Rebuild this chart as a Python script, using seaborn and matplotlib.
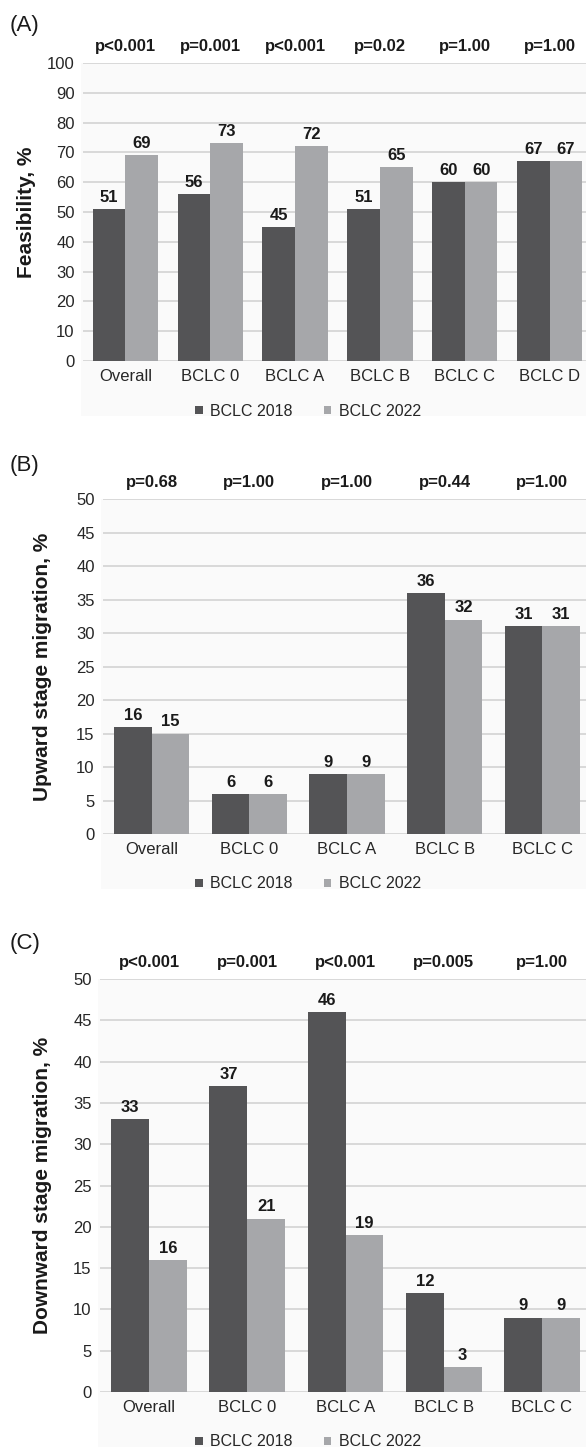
import matplotlib
matplotlib.use("Agg")
import matplotlib.pyplot as plt
import matplotlib.patches as mpatches
import pandas as pd
import seaborn as sns

# ---- data -------------------------------------------------------------
series_names = ["BCLC 2018", "BCLC 2022"]

cats_a = ["Overall", "BCLC 0", "BCLC A", "BCLC B", "BCLC C", "BCLC D"]
feas_2018 = [51, 56, 45, 51, 60, 67]
feas_2022 = [69, 73, 72, 65, 60, 67]
p_a = ["p<0.001", "p=0.001", "p<0.001", "p=0.02", "p=1.00", "p=1.00"]

cats_bc = ["Overall", "BCLC 0", "BCLC A", "BCLC B", "BCLC C"]
up_2018 = [16, 6, 9, 36, 31]
up_2022 = [15, 6, 9, 32, 31]
p_b = ["p=0.68", "p=1.00", "p=1.00", "p=0.44", "p=1.00"]

down_2018 = [33, 37, 46, 12, 9]
down_2022 = [16, 21, 19, 3, 9]
p_c = ["p<0.001", "p=0.001", "p<0.001", "p=0.005", "p=1.00"]

# ---- style ------------------------------------------------------------
sns.set_theme(style="white")
plt.rcParams["font.family"] = ["Liberation Sans", "DejaVu Sans"]

DARK = "#545456"
LIGHT = "#a6a7aa"
GRID = "#d9d9d9"
TXT = "#1a1a1a"

W, H = 586, 1449
fig = plt.figure(figsize=(W / 100, H / 100), dpi=100)


def fx(px):
    return px / W


def fy(py):
    return 1 - py / H


def long_frame(cats, a, b):
    return pd.DataFrame({
        "stage": cats * 2,
        "value": a + b,
        "version": [series_names[0]] * len(cats) + [series_names[1]] * len(cats),
    })


def panel(box, cats, a, b, pvals, ymax, ystep, ylabel, letter, ylab_x, letter_y):
    left, right, top, bottom = box
    # faint chart-area background behind plot, labels and legend
    fig.patches.append(mpatches.Rectangle(
        (fx(left - 2), fy(bottom + 55)), (W - left + 2) / W, (bottom + 55 - top) / H,
        transform=fig.transFigure, facecolor="#fafafa", edgecolor="none", zorder=-10))

    ax = fig.add_axes([fx(left), fy(bottom), (right - left) / W, (bottom - top) / H])
    ax.set_facecolor("none")
    df = long_frame(cats, a, b)
    sns.barplot(data=df, x="stage", y="value", hue="version", order=cats,
                hue_order=series_names, palette=[DARK, LIGHT], saturation=1,
                width=0.77, errorbar=None, ax=ax, linewidth=0)
    ax.set_ylim(0, ymax)
    ax.set_yticks(range(0, ymax + 1, ystep))
    ax.set_xlim(-0.5, len(cats) - 0.5)
    ax.yaxis.grid(True, color=GRID, linewidth=1.4)
    ax.set_axisbelow(True)
    for s in ax.spines.values():
        s.set_visible(False)
    ax.tick_params(axis="both", length=0, labelsize=12, labelcolor="#262626")
    ax.tick_params(axis="y", pad=6)
    ax.tick_params(axis="x", pad=6)
    ax.set_xlabel("")
    ax.set_ylabel(ylabel, fontsize=15, fontweight="bold", color=TXT)
    ax.yaxis.label.set_va("center")
    ax.yaxis.set_label_coords((ylab_x - left) / (right - left), 0.5)

    for cont in ax.containers:
        ax.bar_label(cont, fmt="%d", padding=3, fontsize=12, fontweight="bold", color=TXT)

    for i, p in enumerate(pvals):
        ax.annotate(p, xy=(i, 1), xycoords=("data", "axes fraction"),
                    xytext=(0, 17), textcoords="offset pixels",
                    ha="center", va="center", fontsize=12, fontweight="bold", color=TXT)

    handles, labels = ax.get_legend_handles_labels()
    ax.legend(handles, labels, loc="center", ncol=2, frameon=False,
              bbox_to_anchor=(fx(308), fy(bottom + 50)), bbox_transform=fig.transFigure,
              handlelength=0.45, handleheight=0.45, handletextpad=0.45,
              columnspacing=2.0, fontsize=11.5, labelcolor="#262626")

    fig.text(fx(10), fy(letter_y), letter, fontsize=16, ha="left", va="center", color=TXT)
    return ax


panel((83, 592, 63, 361), cats_a, feas_2018, feas_2022, p_a, 100, 10,
      "Feasibility, %", "(A)", 26, 25)
panel((103, 591, 499, 834), cats_bc, up_2018, up_2022, p_b, 50, 5,
      "Upward stage migration, %", "(B)", 43, 465)
panel((100, 591, 979, 1392), cats_bc, down_2018, down_2022, p_c, 50, 5,
      "Downward stage migration, %", "(C)", 42, 944)

fig.savefig("out.png", dpi=100, facecolor="white")
